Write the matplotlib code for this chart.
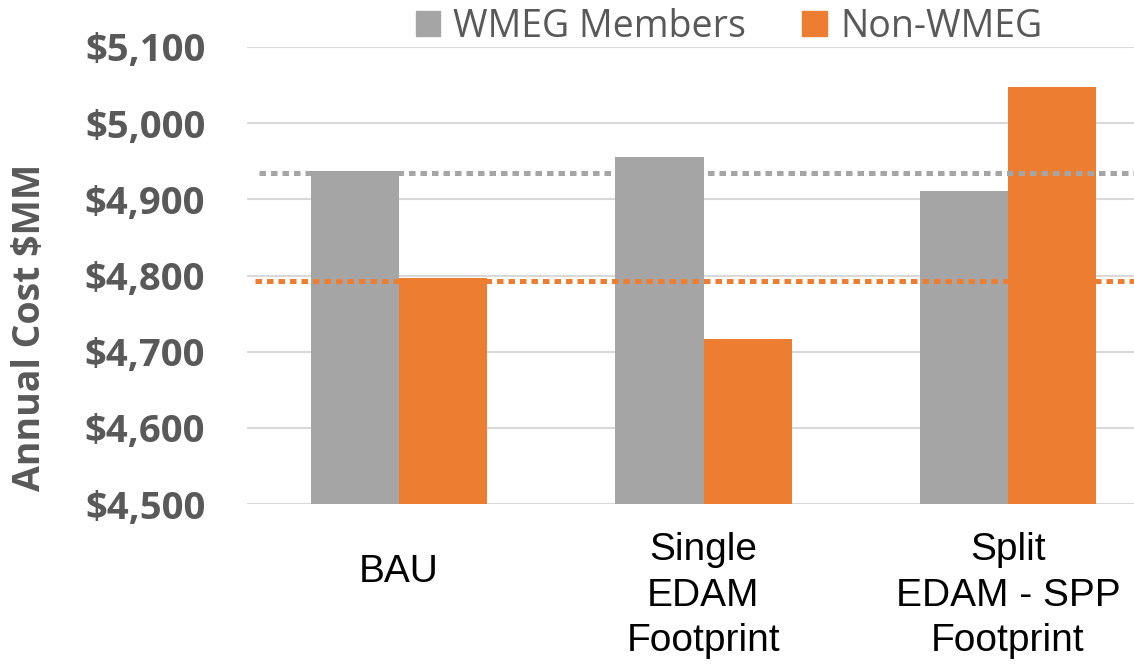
import numpy as np
import matplotlib
matplotlib.use("Agg")
import matplotlib.pyplot as plt
from matplotlib.patches import Patch

# data
categories = ["BAU", "Single\nEDAM\nFootprint", "Split\nEDAM - SPP\nFootprint"]
wmeg = [4937, 4956, 4911]
non_wmeg = [4797, 4716, 5047]
wmeg_ref = 4934      # dotted reference lines (BAU levels)
non_wmeg_ref = 4793
yticks = [4500, 4600, 4700, 4800, 4900, 5000, 5100]

gray = "#A5A5A5"
orange = "#ED7D31"
txt = "#595959"

fig = plt.figure(figsize=(11.34, 6.64), dpi=100)
ax = fig.add_axes([247 / 1134, 1 - 504 / 664, 913 / 1134, 457 / 664])

x = np.arange(len(categories))
w = 0.29
ax.bar(x - w / 2, [v - 4500 for v in wmeg], w, bottom=4500, color=gray, zorder=2)
ax.bar(x + w / 2, [v - 4500 for v in non_wmeg], w, bottom=4500, color=orange, zorder=2)

ax.axhline(wmeg_ref, xmin=0.013, xmax=1, color=gray, lw=3.6, ls=(0, (1.3, 1.0)), zorder=3)
ax.axhline(non_wmeg_ref, xmin=0.009, xmax=1, color=orange, lw=3.6, ls=(0, (1.3, 1.0)), zorder=3)

ax.set_xlim(-0.5, 2.5)
ax.set_ylim(4500, 5100)
ax.set_yticks(yticks)
ax.set_yticklabels(["${:,}".format(t) for t in yticks], fontfamily="Open Sans",
                   fontweight="bold", fontsize=27.5, color=txt)
ax.yaxis.grid(True, color="#D9D9D9", lw=1.5, zorder=0)
ax.set_axisbelow(True)
for s in ax.spines.values():
    s.set_visible(False)
ax.tick_params(axis="y", length=0, pad=30)
ax.tick_params(axis="x", length=0, pad=20)

ax.set_xticks(x)
ax.set_xticklabels(categories, fontfamily="Liberation Sans", fontsize=28,
                   color="black", linespacing=1.35, va="top")
ax.xaxis.get_major_ticks()[0].set_pad(36)

# y label placed in figure coords
ax.set_ylabel("Annual Cost $MM", fontfamily="Open Sans", fontweight="bold",
              fontsize=27, color=txt)
lab = ax.yaxis.label
lab.set_transform(fig.transFigure)
lab.set_position((30 / 1134, 1 - 327 / 664))
lab.set_va("center")
ax.yaxis.set_label_coords(30 / 1134, 1 - 327 / 664, transform=fig.transFigure)

handles = [Patch(color=gray, label="WMEG Members"), Patch(color=orange, label="Non-WMEG")]
fig.legend(handles=handles, loc="center", bbox_to_anchor=(729 / 1134, 1 - 27 / 664),
           ncol=2, frameon=False, prop={"family": "Open Sans", "size": 27},
           labelcolor=txt, handlelength=0.65, handleheight=0.65, handletextpad=0.35,
           columnspacing=1.5)

fig.savefig("out.png", dpi=100)
